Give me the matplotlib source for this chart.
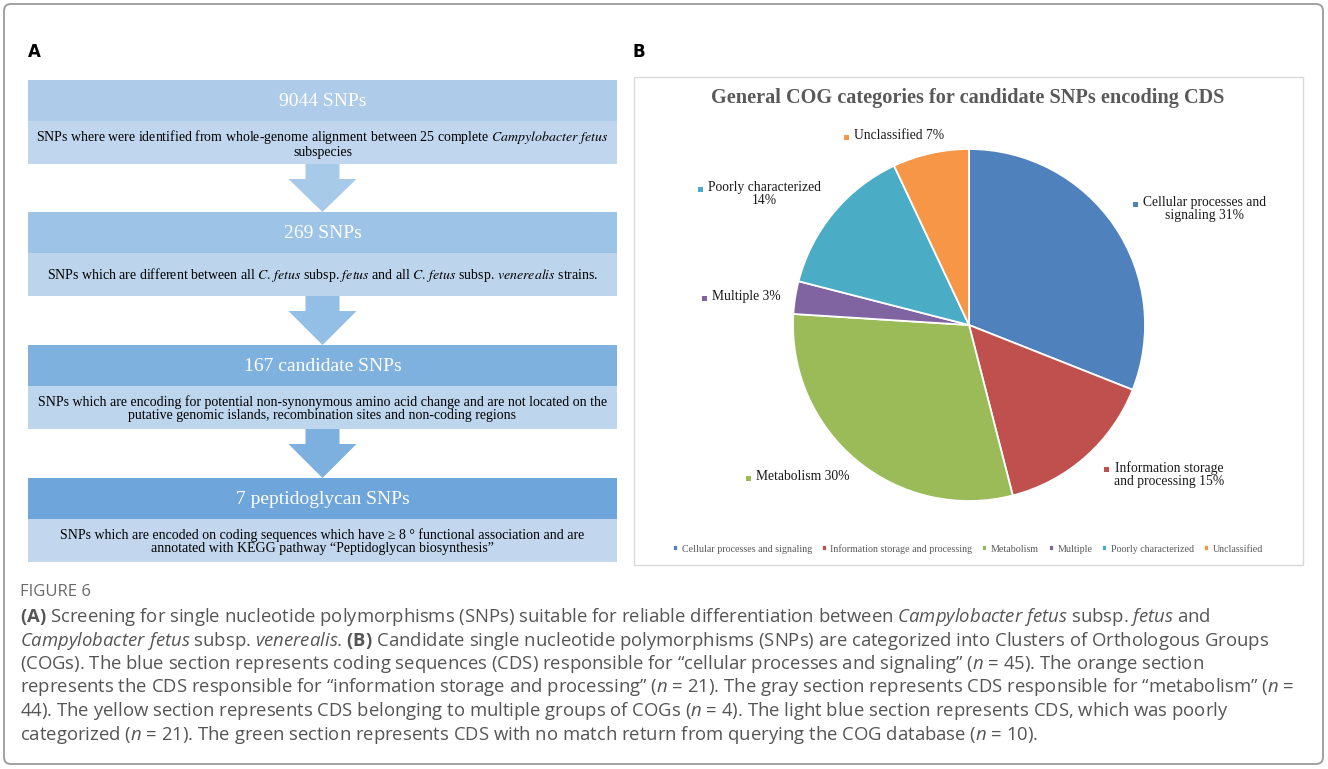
import textwrap
import matplotlib
matplotlib.use("Agg")
import matplotlib.pyplot as plt
from matplotlib.patches import Rectangle, FancyBboxPatch, Polygon

W, H = 1328, 769

# panel A: screening steps
step_titles = ["9044 SNPs", "269 SNPs", "167 candidate SNPs", "7 peptidoglycan SNPs"]
step_notes = [
    "SNPs where were identified from whole-genome alignment between 25 complete $\\mathit{Campylobacter\\ fetus}$\nsubspecies",
    "SNPs which are different between all $\\mathit{C.\\,fetus}$ subsp. $\\mathit{fetus}$ and all $\\mathit{C.\\,fetus}$ subsp. $\\mathit{venerealis}$ strains.",
    "SNPs which are encoding for potential non-synonymous amino acid change and are not located on the\nputative genomic islands, recombination sites and non-coding regions",
    "SNPs which are encoded on coding sequences which have \u2265 8 \u00b0 functional association and are\nannotated with KEGG pathway \u201cPeptidoglycan biosynthesis\u201d",
]
header_colors = ["#aecbe9", "#9dc3e6", "#7fb1df", "#6ea5da"]
body_colors = ["#bfd6ee", "#bcd5ed", "#bdd5ed", "#c2d7ee"]
arrow_colors = ["#a8cae9", "#93bee5", "#7db0df"]

# panel B: COG categories (percent of candidate SNPs)
cog_names = ["Cellular processes and signaling", "Information storage and processing",
             "Metabolism", "Multiple", "Poorly characterized", "Unclassified"]
cog_pct = [31, 15, 30, 3, 14, 7]
cog_colors = ["#4f81bd", "#c0504d", "#9bbb59", "#8064a2", "#4bacc6", "#f79646"]
label_wrap = [22, 19, 40, 40, 20, 40]

caption_lines = [
    "$\\mathbf{(A)}$ Screening for single nucleotide polymorphisms (SNPs) suitable for reliable differentiation between $\\mathit{Campylobacter\\ fetus}$ subsp. $\\mathit{fetus}$ and",
    "$\\mathit{Campylobacter\\ fetus}$ subsp. $\\mathit{venerealis}$. $\\mathbf{(B)}$ Candidate single nucleotide polymorphisms (SNPs) are categorized into Clusters of Orthologous Groups",
    "(COGs). The blue section represents coding sequences (CDS) responsible for \u201ccellular processes and signaling\u201d ($\\mathit{n}$ = 45). The orange section",
    "represents the CDS responsible for \u201cinformation storage and processing\u201d ($\\mathit{n}$ = 21). The gray section represents CDS responsible for \u201cmetabolism\u201d ($\\mathit{n}$ =",
    "44). The yellow section represents CDS belonging to multiple groups of COGs ($\\mathit{n}$ = 4). The light blue section represents CDS, which was poorly",
    "categorized ($\\mathit{n}$ = 21). The green section represents CDS with no match return from querying the COG database ($\\mathit{n}$ = 10).",
]

plt.rcParams["mathtext.fontset"] = "custom"
plt.rcParams["mathtext.rm"] = "Open Sans"
plt.rcParams["mathtext.it"] = "Open Sans:italic"
plt.rcParams["mathtext.bf"] = "Open Sans:bold"

SERIF = "Liberation Serif"

fig = plt.figure(figsize=(W / 100, H / 100), dpi=100)
canvas = fig.add_axes([0, 0, 1, 1])
canvas.set_xlim(0, W)
canvas.set_ylim(H, 0)
canvas.axis("off")

# outer frame
canvas.add_patch(FancyBboxPatch((4, 4), W - 9, H - 9, boxstyle="round,pad=0,rounding_size=7",
                                fill=False, edgecolor="#9a9a9a", linewidth=1.3))

canvas.text(28, 52, "A", fontsize=12, fontweight="bold", family="DejaVu Sans", va="center")
canvas.text(632, 52, "B", fontsize=12, fontweight="bold", family="DejaVu Sans", va="center")

# flowchart boxes
box_x0, box_x1 = 28, 617
cx = (box_x0 + box_x1) / 2
header_top = [80, 212, 345, 478]
header_h, body_h = 41, 43
for i, title in enumerate(step_titles):
    y0 = header_top[i]
    canvas.add_patch(Rectangle((box_x0, y0), box_x1 - box_x0, header_h,
                               facecolor=header_colors[i], edgecolor="none"))
    canvas.add_patch(Rectangle((box_x0, y0 + header_h), box_x1 - box_x0, body_h,
                               facecolor=body_colors[i], edgecolor="none"))
    canvas.text(cx, y0 + header_h / 2 + 1, title, color="white", fontsize=14,
                family=SERIF, ha="center", va="center")
    canvas.text(cx, y0 + header_h + body_h / 2 + 1, step_notes[i], color="black", fontsize=10,
                family=SERIF, ha="center", va="center", ma="center",
                math_fontfamily="stix", linespacing=1.0)
    if i < len(step_titles) - 1:
        a0 = y0 + header_h + body_h
        a1 = header_top[i + 1]
        neck = a0 + 15
        sw, hw = 17, 34
        canvas.add_patch(Polygon([(cx - sw, a0), (cx + sw, a0), (cx + sw, neck), (cx + hw, neck),
                                  (cx, a1), (cx - hw, neck), (cx - sw, neck)],
                                 closed=True, facecolor=arrow_colors[i], edgecolor="none"))

# panel B frame and title
canvas.add_patch(Rectangle((634, 77), 669, 488, fill=False, edgecolor="#d9d9d9", linewidth=1))
canvas.text(968, 98, "General COG categories for candidate SNPs encoding CDS", color="#595959",
            fontsize=14.6, fontweight="bold", family=SERIF, ha="center", va="center")

pcx, pcy, r = 969, 325, 176
pie_ax = fig.add_axes([(pcx - r) / W, 1 - (pcy + r) / H, 2 * r / W, 2 * r / H])
wedges, _ = pie_ax.pie(cog_pct, colors=cog_colors, startangle=90, counterclock=False,
                       wedgeprops=dict(edgecolor="white", linewidth=1.3))
pie_ax.set_xlim(-1, 1)
pie_ax.set_ylim(-1, 1)

# data labels with a colour key square
label_pos = [(1135, 204), (1106, 469), (748, 478), (704, 298), (700, 189), (846, 137)]
for name, pct, col, wrap, (lx, ly) in zip(cog_names, cog_pct, cog_colors, label_wrap, label_pos):
    txt = textwrap.fill(f"{name} {pct}%", wrap)
    canvas.add_patch(Rectangle((lx - 2.5, ly - 2.5), 5, 5, facecolor=col, edgecolor="none"))
    canvas.text(lx + 8, ly - 8, txt, fontsize=9.8, family=SERIF, color="#1a1a1a",
                ha="left", va="top", ma="center", linespacing=1.05)

fig.legend(wedges, cog_names, loc="center", bbox_to_anchor=(968 / W, 1 - 549 / H), ncol=6,
           frameon=False, prop=dict(family=SERIF, size=7.2), labelcolor="#595959",
           handlelength=0.5, handleheight=0.5, handletextpad=0.35, columnspacing=1.0)

# caption
canvas.text(20, 592, "FIGURE 6", fontsize=12, family="Open Sans", color="#6a6a6a", va="center")
for k, line in enumerate(caption_lines):
    canvas.text(20, 617 + 23.5 * k, line, fontsize=13.3, family="Open Sans", color="#555555",
                va="center", math_fontfamily="custom")

fig.savefig("out.png", dpi=100)
